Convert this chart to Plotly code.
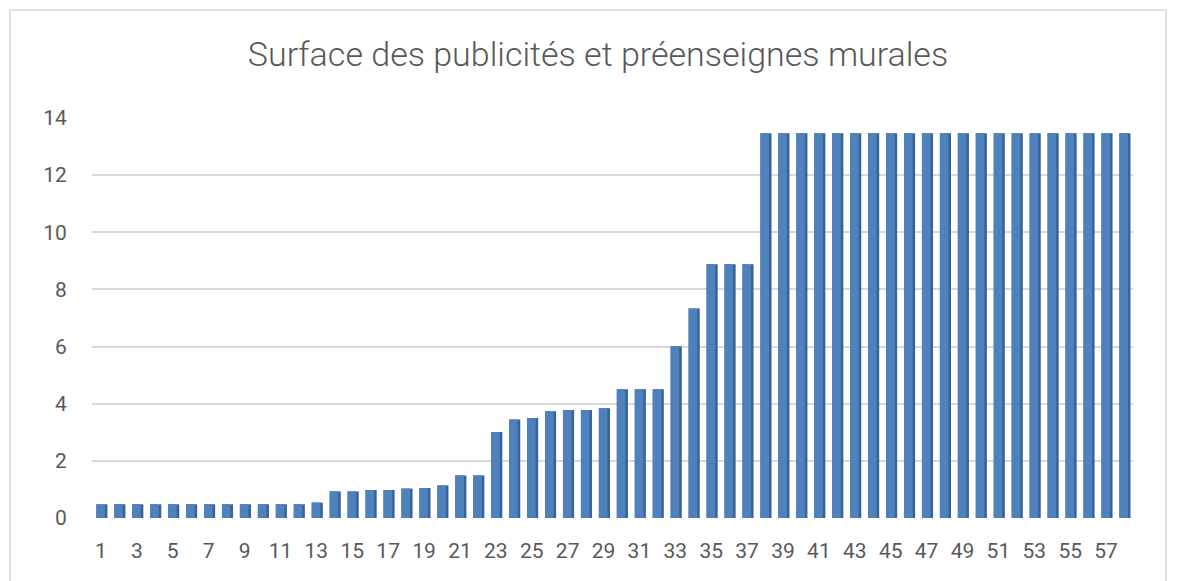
import plotly.graph_objects as go

categories = list(range(1, 59))
values = [0.48] * 12 + [0.54, 0.93, 0.93, 0.98, 0.98, 1.03, 1.05, 1.14, 1.49, 1.49,
          3.01, 3.45, 3.50, 3.74, 3.78, 3.78, 3.84, 4.51, 4.51, 4.51, 6.01, 7.33,
          8.88, 8.88, 8.88] + [13.47] * 21
tick_labels = [str(c) for c in categories if c % 2 == 1]
tick_vals = [c for c in categories if c % 2 == 1]
title = "Surface des publicités et préenseignes murales"

# page body has an 8px margin; figure coordinates = screen coordinates - 8
OFF = 8
W, H = 1178 - OFF, 581 - OFF
L, R, T, B = 92 - OFF, 45, 118 - OFF, 63

def px(x):
    return (x - OFF - L) / (W - L - R)

def py(y):
    return 1 - (y - OFF - T) / (H - T - B)

fig = go.Figure()
# darker side face (3D look)
fig.add_trace(go.Bar(x=categories, y=values, width=0.62, offset=-0.26,
                     marker=dict(color="#3A6395", line=dict(width=0)),
                     hoverinfo="skip", showlegend=False))
# front face
fig.add_trace(go.Bar(x=categories, y=values, width=0.48, offset=-0.26,
                     marker=dict(color="#4F81BD", line=dict(width=0)),
                     showlegend=False))

fig.update_layout(
    width=W, height=H,
    barmode="overlay",
    paper_bgcolor="white", plot_bgcolor="white",
    margin=dict(l=L, r=R, t=T, b=B),
    font=dict(family="Roboto", color="#595959"),
    title=dict(text=title, x=(598 - OFF) / W, xref="container", xanchor="center",
               y=1 - (54 - OFF) / H, yref="container", yanchor="middle",
               font=dict(size=34, color="#595959", family="Roboto", weight=300)),
    xaxis=dict(range=[0.5, 58.5], tickmode="array", tickvals=tick_vals,
               ticktext=tick_labels, showgrid=False, zeroline=False,
               showline=False, ticks="outside", ticklen=14,
               tickcolor="rgba(0,0,0,0)", tickfont=dict(size=21, color="#595959")),
    yaxis=dict(range=[0, 14], dtick=2, showgrid=True, gridcolor="#D9D9D9",
               gridwidth=2, zeroline=False, showline=False, ticks="outside",
               ticklen=20, tickcolor="rgba(0,0,0,0)",
               tickfont=dict(size=21, color="#595959")),
    shapes=[dict(type="rect", xref="paper", yref="paper",
                 x0=px(10), x1=px(1166), y0=py(10), y1=py(600),
                 line=dict(color="#D9D9D9", width=1.5), layer="below")],
)

fig.write_html("out.html")
